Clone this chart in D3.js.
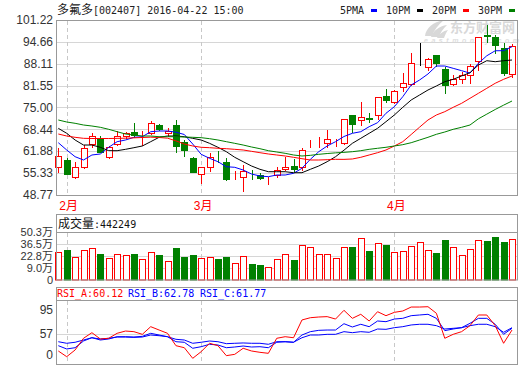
<!DOCTYPE html>
<html>
<head>
<meta charset="utf-8">
<script src="https://cdn.jsdelivr.net/npm/d3@7"></script>
<style>
body { margin: 0; background: #fff; }
svg { display: block; }
</style>
</head>
<body>
<div id="chart"></div>
<script>
// trading days shown
var dates = ["2016-01-29",
  "2016-02-01","2016-02-02","2016-02-03","2016-02-04","2016-02-05","2016-02-15","2016-02-16","2016-02-17",
  "2016-02-18","2016-02-19","2016-02-22","2016-02-23","2016-02-24","2016-02-25","2016-02-26","2016-02-29",
  "2016-03-01","2016-03-02","2016-03-03","2016-03-04","2016-03-07","2016-03-08","2016-03-09","2016-03-10",
  "2016-03-11","2016-03-14","2016-03-15","2016-03-16","2016-03-17","2016-03-18","2016-03-21","2016-03-22",
  "2016-03-23","2016-03-24","2016-03-25","2016-03-28","2016-03-29","2016-03-30","2016-03-31",
  "2016-04-01","2016-04-05","2016-04-06","2016-04-07","2016-04-08","2016-04-11","2016-04-12","2016-04-13",
  "2016-04-14","2016-04-15","2016-04-18","2016-04-19","2016-04-20","2016-04-21","2016-04-22"];

var open  = [57.07,59.26,54.26,57.07,64.05,65.75,60.25,64.05,66.45,67.75,66.2,67.44,69.75,67.44,69.75,64.66,59.95,
  54.97,57.07,59.4,58.57,54.4,54.07,54.6,54.76,53.0,54.76,56.47,57.46,57.25,63.7,64.9,64.26,64.9,64.44,72.75,71.25,71.7,72.75,78.44,
  76.73,81.23,81.95,88.24,87.22,90.73,86.44,81.95,83.44,84.74,88.93,96.6,96.21,92.74,85.03];
var high  = [62.77,59.8,58.57,63.75,67.44,66.45,63.46,67.95,67.56,70.44,67.95,71.04,69.96,68.76,71.25,65.25,60.25,
  57.25,61.26,62.05,59.95,56.05,57.76,56.26,55.47,54.07,57.25,60.07,59.56,62.77,65.25,66.06,68.25,65.55,71.55,72.75,76.73,73.26,78.23,80.45,
  80.24,85.24,91.24,94.24,89.74,90.73,87.22,84.74,85.73,88.03,96.21,99.72,96.8,94.4,94.03];
var low   = [55.75,55.0,53.96,56.77,63.07,61.57,59.95,63.75,65.95,66.24,63.75,67.05,68.25,66.45,61.75,60.46,55.57,
  52.46,56.05,58.75,53.27,53.66,50.06,53.47,53.47,52.06,54.26,56.26,56.05,56.26,63.07,63.07,63.25,63.46,64.05,67.75,69.75,70.74,71.46,76.73,
  76.25,80.03,81.74,87.73,86.23,87.43,79.43,81.74,82.25,82.25,86.23,94.72,91.24,84.74,84.23];
var close = [60.55,55.06,57.07,62.77,66.45,61.75,63.07,66.45,67.25,66.75,66.3,70.26,68.55,67.95,63.46,62.27,55.75,
  57.07,60.25,59.2,53.57,54.5,55.96,54.4,53.77,53.1,56.26,57.07,56.65,62.26,63.8,65.0,65.46,65.0,71.46,70.05,72.24,71.6,78.05,77.24,
  79.94,82.43,88.24,88.24,89.44,88.42,81.74,83.53,84.74,87.43,96.21,96.4,93.73,85.24,93.43];

// volume in 万
var volume = [27.0,29.6,21.3,29.6,31.6,25.0,20.1,24.7,23.6,25.0,19.3,27.0,23.9,17.0,32.3,21.3,23.9,
  20.1,21.3,19.3,21.3,14.4,22.8,13.2,12.4,10.5,19.3,24.7,18.2,35.4,32.7,24.7,24.7,20.1,32.7,32.7,43.1,28.5,37.3,35.4,
  27.0,28.1,33.9,38.5,29.6,26.2,41.5,32.7,23.9,30.8,41.1,40.3,44.6,39.2,42.6];

var ma5  = [64.44,62.26,60.25,59.26,60.76,61.06,63.07,64.75,65.25,66.06,66.24,67.74,67.95,67.95,67.6,66.9,64.05,
  60.97,59.77,58.75,57.25,57.07,56.26,55.06,54.46,54.26,54.76,54.76,55.27,56.77,59.47,61.75,63.46,64.75,66.3,67.26,67.74,69.24,70.44,73.26,
  75.24,78.23,81.74,83.24,85.04,87.43,87.43,86.74,86.03,85.3,88.24,90.5,92.0,92.02,93.22];
var ma10 = [68.76,67.26,65.25,63.75,63.75,63.07,62.05,62.05,62.46,62.95,63.46,64.75,66.06,66.45,66.45,66.24,65.76,
  65.25,64.26,63.07,61.75,60.07,58.75,57.46,56.47,55.75,55.75,55.75,55.45,55.45,56.47,57.46,58.75,60.25,62.2,64.26,65.76,67.26,68.76,70.74,
  72.75,75.05,77.24,78.74,80.24,81.44,82.73,83.44,84.44,85.43,87.73,89.02,88.72,89.02,89.23];
var ma20 = [67.05,66.45,66.06,65.76,65.7,65.7,65.7,65.75,65.8,65.9,66.0,66.1,66.0,65.8,65.0,64.05,63.46,
  63.07,62.95,62.77,62.65,62.46,62.26,61.86,61.45,61.06,60.76,60.46,60.07,59.65,59.26,59.26,59.35,59.47,59.45,59.56,60.07,60.76,61.45,62.26,
  63.46,64.75,66.9,69.1,71.25,72.75,73.74,75.05,76.25,77.75,79.25,80.75,82.25,83.44,84.44];
var ma30 = [71.25,70.65,70.26,69.75,69.45,69.06,68.46,67.74,67.05,66.75,66.45,66.45,66.24,66.24,66.24,66.14,66.06,
  65.95,65.65,65.25,64.75,64.26,63.75,63.16,62.65,62.05,61.66,61.26,60.76,60.46,60.66,60.96,61.2,61.4,61.55,61.75,62.05,62.46,62.77,63.07,
  63.46,63.85,64.44,65.25,66.06,66.96,67.65,68.46,69.06,69.75,71.6,73.0,74.4,75.7,76.94];

var rsiA = [30.1,21.1,31.7,50.2,59.1,49.1,50.2,58.1,61.7,60.7,56.5,68.6,63.3,58.1,38.5,35.3,18.5,
  29.0,42.3,38.5,22.7,24.8,34.4,30.1,28.0,26.4,50.2,52.7,51.1,79.2,82.8,83.9,84.5,80.7,94.5,81.8,88.2,77.6,92.3,86.0,
  91.3,93.4,99.7,99.7,100.2,89.8,50.2,56.5,60.7,70.2,87.1,87.1,70.2,42.3,63.3];
var rsiB = [38.5,33.3,35.3,45.9,51.2,47.5,49.1,52.7,52.7,52.2,53.3,58.1,55.4,52.7,44.8,43.9,34.4,
  36.9,40.7,39.6,35.3,36.4,38.0,36.4,36.9,35.3,43.9,44.8,43.9,55.4,60.7,62.8,63.3,63.3,73.3,68.1,72.4,68.6,77.6,76.5,
  80.7,81.8,86.0,87.1,88.2,81.8,62.3,64.9,67.0,73.9,81.8,81.8,72.4,56.5,66.0];
var rsiC = [44.8,42.3,43.9,47.5,51.1,49.1,50.2,52.2,52.2,51.7,52.2,55.4,54.3,52.7,48.6,47.5,42.3,
  43.9,45.9,44.8,41.7,42.3,42.8,42.3,42.3,40.7,44.8,44.8,43.9,51.1,55.4,55.4,56.5,56.5,60.7,59.1,60.7,59.7,64.9,64.4,
  67.0,68.6,71.3,72.4,72.4,70.2,64.9,66.0,67.0,70.2,72.4,72.4,68.6,59.7,67.0];

var priceTicks = [48.77, 55.33, 61.88, 68.44, 75.00, 81.55, 88.11, 94.66, 101.22];
var volTicks = [-4.8, 9.0, 22.8, 36.5, 50.3];
var volTickLabels = ["0", "9.0万", "22.8万", "36.5万", "50.3万"];
var rsiTicks = [23.8, 57, 95];
var rsiTickLabels = ["0", "57", "95"];
var monthStarts = ["2016-02-01", "2016-03-01", "2016-04-01"];
var monthLabels = ["2月", "3月", "4月"];
var maNames = ["5PMA", "10PM", "20PM", "30PM"];
var maColors = ["#0000ff", "#000000", "#ff0000", "#008000"];
var title = "多氟多[002407] 2016-04-22 15:00";
var volTitle = "成交量:442249";
var rsiNames = ["RSI_A:60.12", "RSI_B:62.78", "RSI_C:61.77"];
var rsiColors = ["#ff0000", "#0000ff", "#0000ff"];

// layout
var width = 520, height = 365;
var left = 56, right = 517;
var red = "#ff0000", green = "#008000";
var frameColor = "#999", gridColor = "#d6d6d6";
var sansFont = "'Liberation Sans', Arial, 'Noto Sans CJK SC', sans-serif";

var svg = d3.select("#chart").append("svg")
  .attr("width", width).attr("height", height);

var x = d3.scalePoint().domain(dates).range([58.3, 512]);
var yPrice = d3.scaleLinear().domain([48.77, 101.22]).range([195, 20]);
var yVol = d3.scaleLinear().domain([-4.8, 50.3]).range([280, 232]);
var yRsi = d3.scaleLinear().domain([57, 95]).range([334, 310]);

function px(v) { return Math.round(v) + 0.5; }

// text with CJK in a 12px font and ascii in a 6px-wide mono font
function mixText(sel, str) {
  var runs = str.match(/[\u3000-\u9fff\uff00-\uffef]+|[^\u3000-\u9fff\uff00-\uffef]+/g);
  runs.forEach(function(r) {
    var cjk = /[\u3000-\u9fff\uff00-\uffef]/.test(r);
    sel.append("tspan")
      .style("font-family", cjk ? "'Noto Sans CJK SC', sans-serif" : "'DejaVu Sans Mono', monospace")
      .style("font-size", cjk ? "12px" : "10px")
      .text(r);
  });
}

function hline(g, y, x1, x2, color) {
  g.append("line").attr("x1", x1).attr("x2", x2)
    .attr("y1", px(y)).attr("y2", px(y))
    .attr("stroke", color).attr("stroke-width", 1);
}

function monthLines(g, y1, y2) {
  g.selectAll(null).data(monthStarts).enter().append("line")
    .attr("x1", d => px(x(d))).attr("x2", d => px(x(d)))
    .attr("y1", y1).attr("y2", y2)
    .attr("stroke", "#c8c8c8").attr("stroke-dasharray", "4,3");
}

// ---------- watermark ----------
var wm = svg.append("g").attr("fill", "#d8d8d8");
wm.append("path").attr("d", "M425,36 C426,28 433,22 444,20 C438,25 434,30 432,36 Z");
wm.append("path").attr("d", "M431,37 C433,31 439,26 447,25 C443,29 440,33 439,37 Z");
wm.append("path").attr("d", "M437,38 C439,34 443,31 448,30 C446,33 445,35 444,38 Z");
wm.append("text").attr("x", 450).attr("y", 32)
  .style("font-family", "'Noto Sans CJK SC', sans-serif").style("font-size", "13px").style("font-weight", "bold")
  .text("东方财富网");
wm.append("text").attr("x", 424).attr("y", 43).attr("textLength", 95)
  .style("font-family", sansFont).style("font-size", "7px").style("font-weight", "bold").style("font-style", "italic")
  .attr("fill", "#dedede")
  .text("eastmoney.com");

// ---------- price panel ----------
var main = svg.append("g");
priceTicks.slice(1, -1).forEach(function(t) { hline(main, yPrice(t), left, right, gridColor); });
monthLines(main, 21, 195);

main.selectAll(".ptick").data(priceTicks).enter().append("text")
  .attr("x", 53).attr("y", d => yPrice(d)).attr("dy", "0.35em")
  .attr("text-anchor", "end").attr("fill", "#333")
  .style("font-family", sansFont).style("font-size", "12px")
  .text(d => d.toFixed(2));

main.selectAll(".mlabel").data(monthStarts).enter().append("text")
  .attr("x", d => x(d) + 2).attr("y", 206).attr("dy", "0.35em")
  .attr("text-anchor", "middle").attr("fill", red)
  .style("font-family", sansFont).style("font-size", "12px")
  .text((d, i) => monthLabels[i]);

var candles = dates.map(function(d, i) {
  return {date: d, o: open[i], h: high[i], l: low[i], c: close[i], v: volume[i]};
});
function candleColor(d) { return d.c > d.o ? red : (d.c < d.o ? green : "#000"); }
function bodyX(d) { return Math.round(x(d.date) - 3) + 0.5; }

var cg = main.selectAll(".candle").data(candles).enter().append("g");
cg.append("line")
  .attr("x1", d => bodyX(d) + 3).attr("x2", d => bodyX(d) + 3)
  .attr("y1", d => Math.round(yPrice(d.h))).attr("y2", d => Math.round(yPrice(d.l)) + 1)
  .attr("stroke", candleColor);
cg.append("rect")
  .attr("x", bodyX).attr("width", 6)
  .attr("y", d => px(yPrice(Math.max(d.o, d.c))))
  .attr("height", d => Math.round(yPrice(Math.min(d.o, d.c))) - Math.round(yPrice(Math.max(d.o, d.c))))
  .attr("fill", d => d.c < d.o ? green : "#fff")
  .attr("stroke", candleColor);

var maSeries = [ma5, ma10, ma20, ma30];
var priceLine = d3.line().x((d, i) => x(dates[i])).y(d => yPrice(d));
main.selectAll(".ma").data(maSeries).enter().append("path")
  .attr("d", priceLine).attr("fill", "none")
  .attr("stroke", (d, i) => maColors[i]).attr("stroke-width", 1);

main.append("rect").attr("x", left + 0.5).attr("y", 20.5)
  .attr("width", right - left).attr("height", 175)
  .attr("fill", "none").attr("stroke", frameColor);

var tt = svg.append("text").attr("x", 57).attr("y", 14).attr("fill", "#222");
mixText(tt, title);

var legend = svg.selectAll(".leg").data(maNames).enter().append("g")
  .attr("transform", (d, i) => "translate(" + (340 + i * 46) + ",0)");
legend.append("text").attr("x", 0).attr("y", 14).attr("fill", "#222")
  .each(function(d) { mixText(d3.select(this), d); });
legend.append("rect").attr("x", 31).attr("y", 9).attr("width", 6).attr("height", 3)
  .attr("fill", (d, i) => maColors[i]);

// ---------- volume panel ----------
var vol = svg.append("g");
volTicks.slice(1, -1).forEach(function(t) { hline(vol, yVol(t), left, right, gridColor); });
monthLines(vol, 233, 280);

vol.selectAll(".vbar").data(candles).enter().append("rect")
  .attr("x", bodyX).attr("width", 6)
  .attr("y", d => px(yVol(d.v)))
  .attr("height", d => 280 - px(yVol(d.v)))
  .attr("fill", d => d.c >= d.o ? "#fff" : green)
  .attr("stroke", d => d.c >= d.o ? red : green);

vol.selectAll(".vtick").data(volTicks).enter().append("text")
  .attr("x", 53).attr("y", d => yVol(d)).attr("dy", "0.35em")
  .attr("text-anchor", "end").attr("fill", "#333")
  .style("font-family", sansFont).style("font-size", "11px")
  .text((d, i) => volTickLabels[i]);

vol.append("rect").attr("x", left + 0.5).attr("y", 214.5)
  .attr("width", right - left).attr("height", 18)
  .attr("fill", "none").attr("stroke", frameColor);
vol.append("rect").attr("x", left + 0.5).attr("y", 232.5)
  .attr("width", right - left).attr("height", 47.5)
  .attr("fill", "none").attr("stroke", frameColor);
var vt = vol.append("text").attr("x", 58).attr("y", 227.5).attr("fill", "#111");
mixText(vt, volTitle);

// ---------- RSI panel ----------
var rsi = svg.append("g");
hline(rsi, yRsi(57), left, right, gridColor);
monthLines(rsi, 301, 364);

var rsiLine = d3.line().x((d, i) => x(dates[i])).y(d => yRsi(d));
rsi.selectAll(".rsi").data([rsiC, rsiB, rsiA]).enter().append("path")
  .attr("d", rsiLine).attr("fill", "none")
  .attr("stroke", (d, i) => [rsiColors[2], rsiColors[1], rsiColors[0]][i]).attr("stroke-width", 1);

rsi.selectAll(".rtick").data(rsiTicks).enter().append("text")
  .attr("x", 53).attr("y", d => yRsi(d)).attr("dy", "0.35em")
  .attr("text-anchor", "end").attr("fill", "#333")
  .style("font-family", sansFont).style("font-size", "12px")
  .text((d, i) => rsiTickLabels[i]);

rsi.append("rect").attr("x", left + 0.5).attr("y", 287.5)
  .attr("width", right - left).attr("height", 13)
  .attr("fill", "none").attr("stroke", frameColor);
rsi.append("rect").attr("x", left + 0.5).attr("y", 300.5)
  .attr("width", right - left).attr("height", 64)
  .attr("fill", "none").attr("stroke", frameColor);

var rsiX = [57, 128, 200];
rsiNames.forEach(function(n, i) {
  var t = rsi.append("text").attr("x", rsiX[i]).attr("y", 296.5).attr("fill", rsiColors[i]);
  mixText(t, n);
});
</script>
</body>
</html>
